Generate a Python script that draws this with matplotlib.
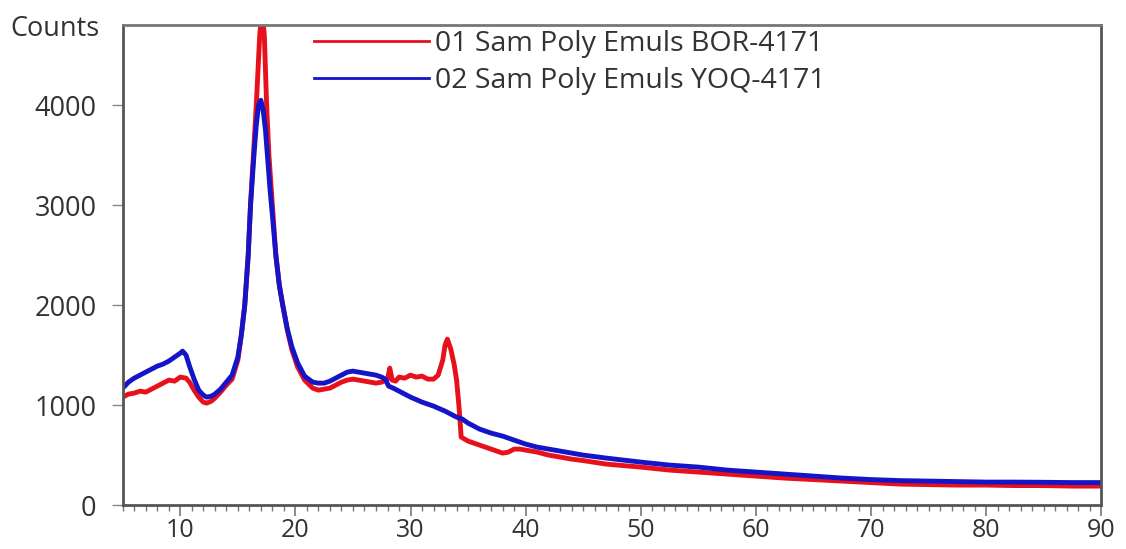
import matplotlib
matplotlib.use("Agg")
import matplotlib.pyplot as plt
from matplotlib.ticker import MultipleLocator

plt.rcParams['font.family'] = ['Open Sans', 'DejaVu Sans']

# ---- data ----
red_label = "01 Sam Poly Emuls BOR-4171"
blue_label = "02 Sam Poly Emuls YOQ-4171"

red_x = [5, 5.5, 6, 6.5, 7, 7.5, 8, 8.5, 9, 9.5, 10, 10.5, 10.8, 11.2, 11.6, 12, 12.3, 12.7,
         13, 13.5, 14, 14.5, 15, 15.3, 15.6, 15.9, 16.1, 16.4, 16.6, 16.9, 17.1, 17.3, 17.5,
         17.7, 18.0, 18.3, 18.6, 18.9, 19.3, 19.7, 20.2, 20.8, 21.5, 22, 22.5, 23, 23.5, 24,
         24.5, 25, 25.5, 26, 26.5, 27, 27.5, 28, 28.2, 28.4, 28.7, 29, 29.5, 30, 30.5, 31,
         31.5, 32, 32.4, 32.8, 33.0, 33.2, 33.5, 33.8, 34.0, 34.2, 34.4, 34.7, 35, 35.5, 36,
         36.5, 37, 37.5, 38, 38.5, 39, 39.5, 40, 41, 42, 43, 44, 45, 47, 50, 52.5, 55, 57.5,
         60, 62.5, 65, 67.5, 70, 72.5, 75, 77.5, 80, 82.5, 85, 87.5, 90]
red_y = [1080, 1110, 1120, 1140, 1130, 1160, 1190, 1220, 1250, 1240, 1280, 1270, 1230, 1150,
         1080, 1030, 1020, 1040, 1070, 1130, 1200, 1260, 1450, 1700, 2000, 2500, 3000, 3600,
         4000, 4700, 4950, 4700, 4000, 3500, 3000, 2500, 2200, 2000, 1750, 1550, 1380, 1250,
         1170, 1150, 1160, 1170, 1200, 1230, 1250, 1260, 1250, 1240, 1230, 1220, 1230, 1260,
         1370, 1250, 1240, 1280, 1270, 1300, 1280, 1290, 1260, 1260, 1300, 1450, 1600, 1660,
         1560, 1400, 1250, 1000, 680, 660, 640, 620, 600, 580, 560, 540, 520, 530, 560, 560,
         550, 530, 500, 480, 460, 445, 410, 380, 350, 330, 310, 290, 270, 255, 240, 225, 210,
         205, 200, 200, 195, 195, 190, 190]

blue_x = [5, 5.5, 6, 6.5, 7, 7.5, 8, 8.5, 9, 9.5, 10, 10.2, 10.5, 10.8, 11.2, 11.6, 12, 12.3,
          12.7, 13, 13.5, 14, 14.5, 15, 15.3, 15.6, 15.9, 16.1, 16.4, 16.6, 16.8, 17.0, 17.2,
          17.4, 17.6, 17.8, 18.0, 18.3, 18.6, 18.9, 19.3, 19.7, 20.2, 20.8, 21.5, 22, 22.5,
          23, 23.5, 24, 24.5, 25, 25.5, 26, 26.5, 27, 27.5, 27.8, 28.1, 28.5, 29, 30, 31, 32,
          33, 34, 34.5, 35, 36, 37, 38, 39, 40, 41, 42, 43, 44, 45, 47, 50, 52.5, 55, 57.5,
          60, 62.5, 65, 67.5, 70, 72.5, 75, 77.5, 80, 82.5, 85, 87.5, 90]
blue_y = [1170, 1230, 1270, 1300, 1330, 1360, 1390, 1410, 1440, 1480, 1520, 1540, 1500, 1390,
          1260, 1150, 1100, 1080, 1090, 1110, 1160, 1230, 1300, 1480, 1700, 2000, 2500, 3000,
          3500, 3800, 4000, 4050, 3950, 3750, 3450, 3150, 2900, 2500, 2200, 2000, 1760, 1580,
          1420, 1290, 1230, 1220, 1220, 1240, 1270, 1300, 1330, 1340, 1330, 1320, 1310, 1300,
          1280, 1260, 1190, 1170, 1140, 1080, 1030, 990, 940, 880, 860, 820, 760, 720, 690,
          650, 610, 580, 560, 540, 520, 500, 470, 430, 400, 380, 350, 330, 310, 290, 270, 255,
          245, 240, 235, 230, 230, 228, 225, 225]

x_ticks = [10, 20, 30, 40, 50, 60, 70, 80, 90]
y_ticks = [0, 1000, 2000, 3000, 4000]

# ---- figure ----
fig = plt.figure(figsize=(11.26, 5.49), dpi=100)
ax = fig.add_axes([0.109, 0.080, 0.869, 0.874])

ax.plot(red_x, red_y, color='#e8101a', lw=3.5, label=red_label, solid_joinstyle='round')
ax.plot(blue_x, blue_y, color='#1414c8', lw=3.5, label=blue_label, solid_joinstyle='round')

ax.set_xlim(5, 90)
ax.set_ylim(0, 4800)
ax.set_xticks(x_ticks)
ax.set_yticks(y_ticks)
ax.xaxis.set_minor_locator(MultipleLocator(1))

for sp in ax.spines.values():
    sp.set_color('#555555')
    sp.set_linewidth(2)
ax.spines['top'].set_color('#777777')

ax.tick_params(axis='x', which='major', direction='out', length=8, width=1.2,
               color='#777777', labelsize=18, labelcolor='#333333', pad=1)
ax.tick_params(axis='x', which='minor', direction='out', length=4, width=1.0, color='#777777')
ax.tick_params(axis='y', which='major', direction='out', length=8, width=1.0,
               color='#888888', labelsize=19.5, labelcolor='#333333', pad=11)

fig.text(0.009, 0.948, "Counts", fontsize=19.5, color='#333333', va='center', ha='left')

leg = ax.legend(loc='upper left', bbox_to_anchor=(0.191, 1.0), frameon=False,
                fontsize=20.5, handlelength=4.05, handletextpad=0.2, labelspacing=0.32,
                borderpad=0.15, borderaxespad=0)
for line in leg.get_lines():
    line.set_linewidth(2)
for t in leg.get_texts():
    t.set_color('#333333')

fig.savefig("out.png", dpi=100, facecolor='white')
